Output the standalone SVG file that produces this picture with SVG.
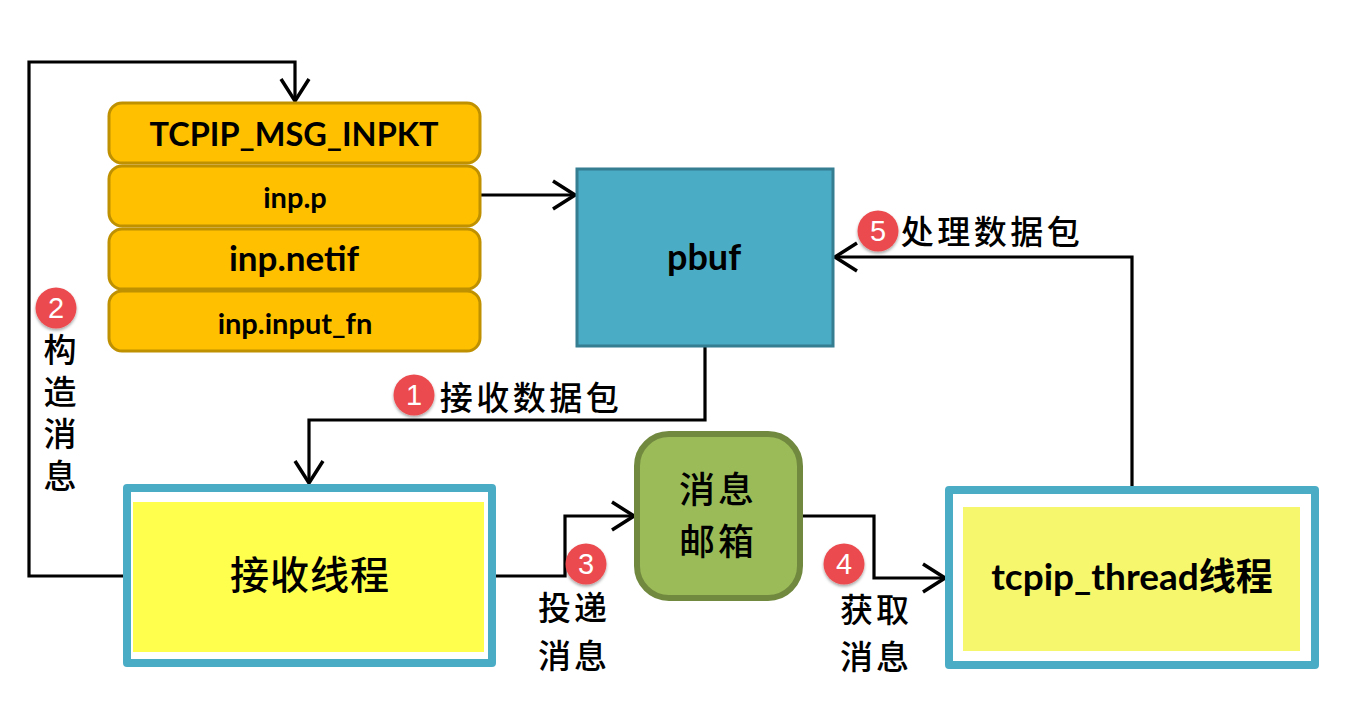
<svg xmlns="http://www.w3.org/2000/svg" width="1368" height="716" viewBox="0 0 1368 716">
<style>
.c{fill:none;stroke:#000;stroke-width:3.2;stroke-linejoin:miter}
.row{fill:#ffc000;stroke:#bf9000;stroke-width:3}
.t{font-family:Lato,"Noto Sans",sans-serif;font-weight:700;fill:#000;text-anchor:middle}
.z{font-family:"Noto Sans CJK SC",sans-serif;font-weight:500;fill:#000;text-anchor:middle}
.mix{font-family:Lato,"Noto Sans CJK SC",sans-serif;font-weight:700;fill:#000;text-anchor:middle}
.bn{font-family:"Liberation Sans",sans-serif;fill:#fff;font-size:29px;text-anchor:middle}
.bc{fill:#eb4c4f;filter:url(#sh)}
.frame{fill:#fff;stroke:#4bacc6;stroke-width:8;stroke-linejoin:round}
</style>
<defs>
<marker id="a" markerUnits="userSpaceOnUse" viewBox="-26 -17 29 34" refX="0" refY="0" markerWidth="29" markerHeight="34" orient="auto">
<path d="M-22,-14 L0,0 L-22,14" fill="none" stroke="#000" stroke-width="3.5"/>
</marker>
<filter id="sh" x="-30%" y="-30%" width="160%" height="160%">
<feDropShadow dx="0" dy="2" stdDeviation="1.5" flood-color="#000" flood-opacity="0.35"/>
</filter>
</defs>
<rect width="1368" height="716" fill="#fff"/>

<g id="connectors">
<path class="c" d="M125,576 H29 V62 H295 V101" marker-end="url(#a)"/>
<path class="c" d="M481,195 H575" marker-end="url(#a)"/>
<path class="c" d="M705,347 V420 H309 V483" marker-end="url(#a)"/>
<path class="c" d="M496,576 H565 V516 H634" marker-end="url(#a)"/>
<path class="c" d="M803,516 H874 V578 H945" marker-end="url(#a)"/>
<path class="c" d="M1132,487 V257 H835" marker-end="url(#a)"/>
</g>

<g id="node-msg">
<rect class="row" x="109" y="103" width="371" height="60" rx="13"/>
<text class="t" x="294" y="146" font-size="32.5">TCPIP_MSG_INPKT</text>
</g>
<g id="node-inp-p">
<rect class="row" x="109" y="166" width="371" height="60" rx="13"/>
<text class="t" x="295" y="208" font-size="29">inp.p</text>
</g>
<g id="node-inp-netif">
<rect class="row" x="109" y="229" width="371" height="60" rx="13"/>
<text class="t" x="294" y="271" font-size="35">inp.netif</text>
</g>
<g id="node-inp-input-fn">
<rect class="row" x="109" y="291" width="371" height="60" rx="13"/>
<text class="t" x="295" y="334" font-size="29">inp.input_fn</text>
</g>

<g id="node-pbuf">
<rect x="577" y="169" width="256" height="177" fill="#4bacc6" stroke="#357d91" stroke-width="3"/>
<text class="t" x="704" y="270" font-size="36">pbuf</text>
</g>

<g id="node-recv">
<rect class="frame" x="127" y="488" width="365" height="175"/>
<rect x="133" y="502" width="351" height="150" fill="#ffff4d"/>
<text class="z" x="310" y="589" font-size="39" letter-spacing="1">接收线程</text>
</g>

<g id="node-mbox">
<rect x="637" y="434" width="163" height="164" rx="32" fill="#9bbb59" stroke="#71893f" stroke-width="6"/>
<text class="z" x="718" y="503" font-size="36" letter-spacing="3">消息</text>
<text class="z" x="718" y="555" font-size="36" letter-spacing="3">邮箱</text>
</g>

<g id="node-tcpip">
<rect class="frame" x="949" y="490" width="366" height="175"/>
<rect x="963" y="507" width="337" height="144" fill="#f7f76d"/>
<text class="mix" x="1132" y="590" font-size="37">tcpip_thread线程</text>
</g>

<g id="label-1">
<circle class="bc" cx="414" cy="395" r="20.5"/>
<text class="bn" x="414" y="405">1</text>
<text class="z" x="531" y="410" font-size="33" letter-spacing="3.5">接收数据包</text>
</g>
<g id="label-2">
<circle class="bc" cx="56" cy="308" r="20.5"/>
<text class="bn" x="56" y="318">2</text>
<text class="z" x="60" y="333" font-size="33" letter-spacing="9" style="writing-mode:vertical-rl;text-anchor:start">构造消息</text>
</g>
<g id="label-3">
<circle class="bc" cx="586" cy="564" r="20.5"/>
<text class="bn" x="586" y="574">3</text>
<text class="z" x="574" y="620" font-size="33" letter-spacing="3">投递</text>
<text class="z" x="574" y="668" font-size="33" letter-spacing="3">消息</text>
</g>
<g id="label-4">
<circle class="bc" cx="844" cy="564" r="20.5"/>
<text class="bn" x="844" y="574">4</text>
<text class="z" x="876" y="622" font-size="33" letter-spacing="3">获取</text>
<text class="z" x="876" y="669" font-size="33" letter-spacing="3">消息</text>
</g>
<g id="label-5">
<circle class="bc" cx="878" cy="231" r="20.5"/>
<text class="bn" x="878" y="241">5</text>
<text class="z" x="992" y="244" font-size="33" letter-spacing="3.5">处理数据包</text>
</g>
</svg>
